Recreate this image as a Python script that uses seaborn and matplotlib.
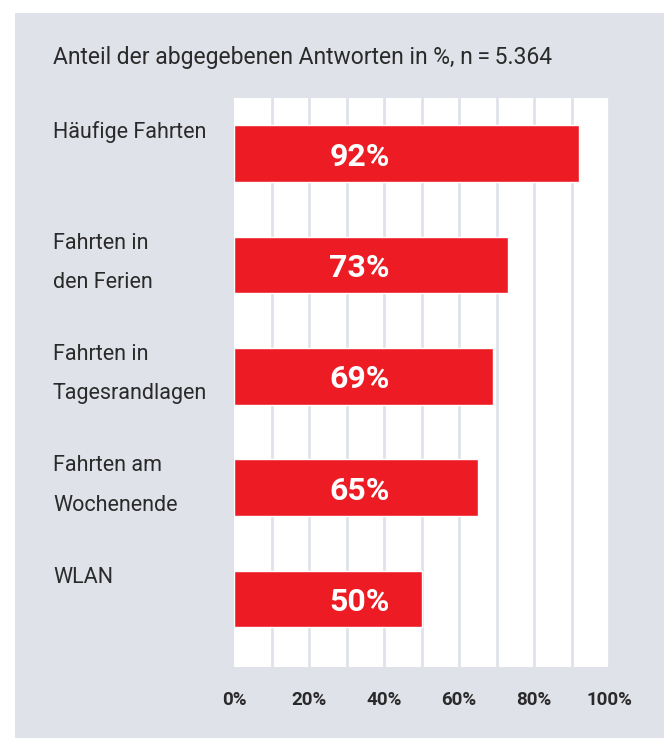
import matplotlib
matplotlib.use("Agg")
import matplotlib.pyplot as plt
import matplotlib.transforms as mtransforms
from matplotlib.patches import Rectangle
from matplotlib.ticker import FixedLocator
import pandas as pd
import seaborn as sns

# chart data
categories = ["Häufige Fahrten", "Fahrten in\nden Ferien", "Fahrten in\nTagesrandlagen",
              "Fahrten am\nWochenende", "WLAN"]
values = [92, 73, 69, 65, 50]
value_labels = ["92%", "73%", "69%", "65%", "50%"]
tick_values = [0, 20, 40, 60, 80, 100]
tick_labels = ["0%", "20%", "40%", "60%", "80%", "100%"]
title = "Anteil der abgegebenen Antworten in %, n\u2009=\u20095.364"

RED = "#ed1c24"
PANEL = "#dfe2e9"
TEXT = "#2b2a2a"
FONT = ["Roboto", "DejaVu Sans"]

W, H = 664, 738

sns.set_theme(style="white")
plt.rcParams["font.family"] = FONT

df = pd.DataFrame({"category": categories, "value": values})

fig = plt.figure(figsize=(W / 100, H / 100), dpi=100, facecolor="white")
# grey panel behind everything
fig.patches.append(Rectangle((15 / W, 0), 1, 1 - 13 / H, transform=fig.transFigure,
                             facecolor=PANEL, edgecolor="none", zorder=-10))

ax = fig.add_axes([234 / W, 1 - 667 / H, (609 - 234) / W, (667 - 98) / H])
ax.set_facecolor("white")

sns.barplot(data=df, x="value", y="category", order=categories, orient="h",
            color=RED, saturation=1, width=0.51, ax=ax)

ax.set_xlim(0, 100)
ax.set_ylim(4.61, -0.5)
for s in ax.spines.values():
    s.set_visible(False)

# vertical grid lines every 10% (not at 0)
ax.xaxis.remove_overlapping_locs = False
ax.xaxis.set_minor_locator(FixedLocator(list(range(10, 101, 10))))
ax.grid(False, which="major")
ax.grid(True, which="minor", axis="x", color=PANEL, linewidth=2)
ax.set_axisbelow(True)

ax.set_xticks(tick_values)
ax.set_xticklabels(tick_labels, fontsize=13.5, fontweight="bold", color=TEXT)
ax.tick_params(axis="x", which="both", length=0, pad=17)
ax.set_yticks([])
ax.set_xlabel("")
ax.set_ylabel("")

# value labels inside bars
for i, lab in enumerate(value_labels):
    ax.text(33.5, i, lab, ha="center", va="center_baseline", color="white",
            fontsize=23, fontweight="bold")

# category labels on the left, first line just below the bar top
trans = mtransforms.blended_transform_factory(fig.transFigure, ax.transData)
for i, cat in enumerate(categories):
    ax.text(53 / W, i - 0.255 - 0.035, cat, transform=trans, ha="left", va="top",
            fontsize=15.5, color=TEXT, linespacing=2.15, clip_on=False)

fig.text(53 / W, 1 - 64 / H, title, ha="left", va="baseline", fontsize=16.5, color=TEXT)

fig.savefig("out.png", dpi=100, facecolor="white")
